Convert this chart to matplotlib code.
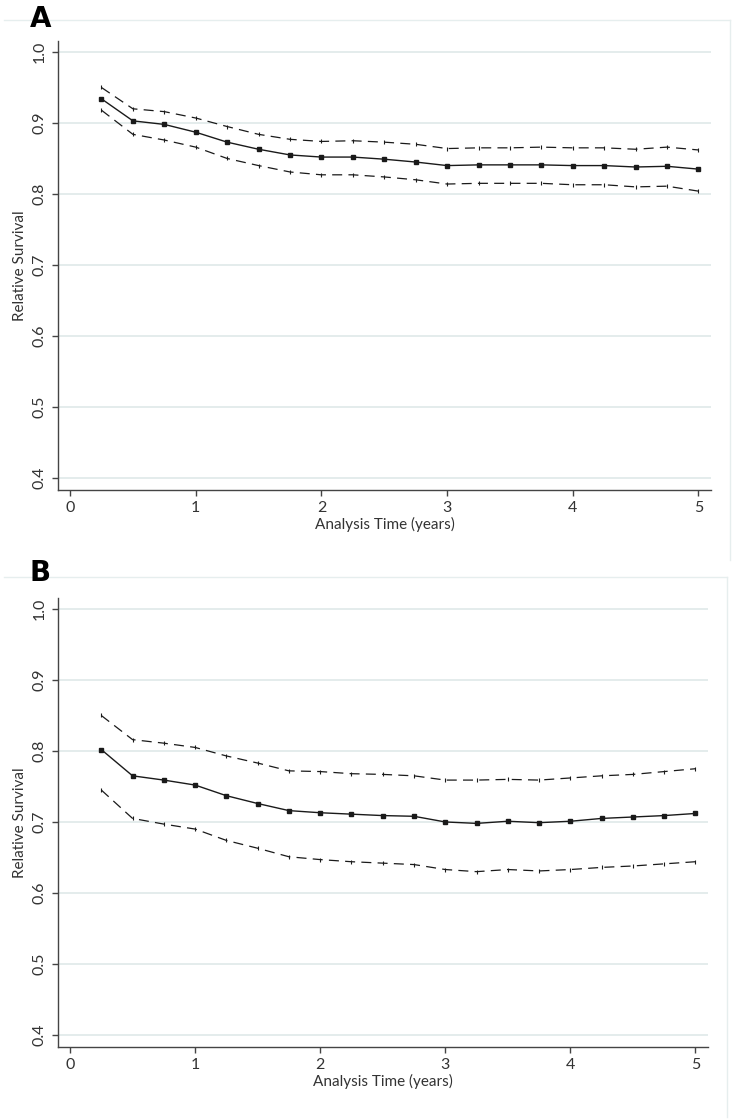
import matplotlib
matplotlib.use("Agg")
import matplotlib.pyplot as plt
from matplotlib.lines import Line2D

plt.rcParams['font.family'] = ['Lato', 'DejaVu Sans']

time = [0.25, 0.5, 0.75, 1.0, 1.25, 1.5, 1.75, 2.0, 2.25, 2.5,
        2.75, 3.0, 3.25, 3.5, 3.75, 4.0, 4.25, 4.5, 4.75, 5.0]

a_est = [0.934, 0.903, 0.898, 0.887, 0.873, 0.863, 0.855, 0.852, 0.852, 0.849,
         0.845, 0.840, 0.841, 0.841, 0.841, 0.840, 0.840, 0.838, 0.839, 0.835]
a_upper = [0.950, 0.920, 0.916, 0.907, 0.895, 0.884, 0.877, 0.874, 0.875, 0.873,
           0.870, 0.864, 0.865, 0.865, 0.866, 0.865, 0.865, 0.863, 0.866, 0.862]
a_lower = [0.918, 0.884, 0.876, 0.866, 0.850, 0.840, 0.831, 0.827, 0.827, 0.824,
           0.820, 0.814, 0.815, 0.815, 0.815, 0.813, 0.813, 0.810, 0.811, 0.804]

b_est = [0.802, 0.765, 0.759, 0.752, 0.737, 0.726, 0.716, 0.713, 0.711, 0.709,
         0.708, 0.700, 0.698, 0.701, 0.699, 0.701, 0.705, 0.707, 0.709, 0.712]
b_upper = [0.850, 0.816, 0.811, 0.805, 0.793, 0.783, 0.772, 0.771, 0.768, 0.767,
           0.765, 0.759, 0.759, 0.760, 0.759, 0.762, 0.765, 0.767, 0.771, 0.775]
b_lower = [0.745, 0.705, 0.697, 0.690, 0.674, 0.663, 0.651, 0.647, 0.644, 0.642,
           0.640, 0.633, 0.630, 0.633, 0.631, 0.633, 0.636, 0.638, 0.641, 0.644]

yticks = [0.4, 0.5, 0.6, 0.7, 0.8, 0.9, 1.0]
xticks = [0, 1, 2, 3, 4, 5]
panel_labels = ['A', 'B']
xlabel = 'Analysis Time (years)'
ylabel = 'Relative Survival'

W, H = 735, 1120
fig = plt.figure(figsize=(W / 100, H / 100), dpi=100)

def fx(px):
    return px / W

def fy(py):
    return 1 - py / H

panels = [
    dict(est=a_est, up=a_upper, lo=a_lower, top=41, bottom=490, left=58, right=711,
         frame_top=20, frame_right=730, frame_bottom=560, label_y=27, label=panel_labels[0]),
    dict(est=b_est, up=b_upper, lo=b_lower, top=598, bottom=1047, left=58, right=708,
         frame_top=577, frame_right=727, frame_bottom=1117, label_y=581, label=panel_labels[1]),
]

grid_col = '#dfe9e9'
line_col = '#1a1a1a'

for p in panels:
    ax = fig.add_axes([fx(p['left']), fy(p['bottom']),
                       fx(p['right'] - p['left']), (p['bottom'] - p['top']) / H])
    ax.set_xlim(-0.096, 5.1)
    ax.set_ylim(0.383, 1.0155)
    ax.set_yticks(yticks)
    ax.set_xticks(xticks)
    ax.set_yticklabels([f'{v:.1f}' for v in yticks], rotation=90, va='center')
    ax.set_xticklabels([str(v) for v in xticks])
    for s in ['top', 'right']:
        ax.spines[s].set_visible(False)
    for s in ['left', 'bottom']:
        ax.spines[s].set_color('#444444')
        ax.spines[s].set_linewidth(1.0)
    ax.tick_params(axis='both', direction='out', length=4, width=1.0, color='#444444',
                   labelsize=11.5, labelcolor='#333333', pad=4)
    ax.yaxis.grid(True, color=grid_col, linewidth=1.2)
    ax.set_axisbelow(True)

    ax.plot(time, p['up'], color=line_col, lw=0.9, ls=(0, (8, 5)),
            marker='|', markersize=2.5, markeredgewidth=0.8)
    ax.plot(time, p['lo'], color=line_col, lw=0.9, ls=(0, (8, 5)),
            marker='|', markersize=2.5, markeredgewidth=0.8)
    ax.plot(time, p['est'], color=line_col, lw=1.0, marker='s', markersize=3.2)

    ax.set_xlabel(xlabel, fontsize=11, color='#333333', labelpad=1)
    ax.set_ylabel(ylabel, fontsize=11, color='#333333', labelpad=4)

    # faint panel frame (top and right edges)
    fig.add_artist(Line2D([fx(4), fx(p['frame_right'])], [fy(p['frame_top'])] * 2,
                          color='#e6eeee', lw=1.0))
    fig.add_artist(Line2D([fx(p['frame_right'])] * 2,
                          [fy(p['frame_top']), fy(p['frame_bottom'])],
                          color='#e6eeee', lw=1.0))

    fig.text(fx(30), fy(p['label_y']), p['label'], fontsize=20, fontweight='bold',
             family=['DejaVu Sans'], ha='left', va='baseline', color='black')

fig.savefig('out.png', dpi=100)
